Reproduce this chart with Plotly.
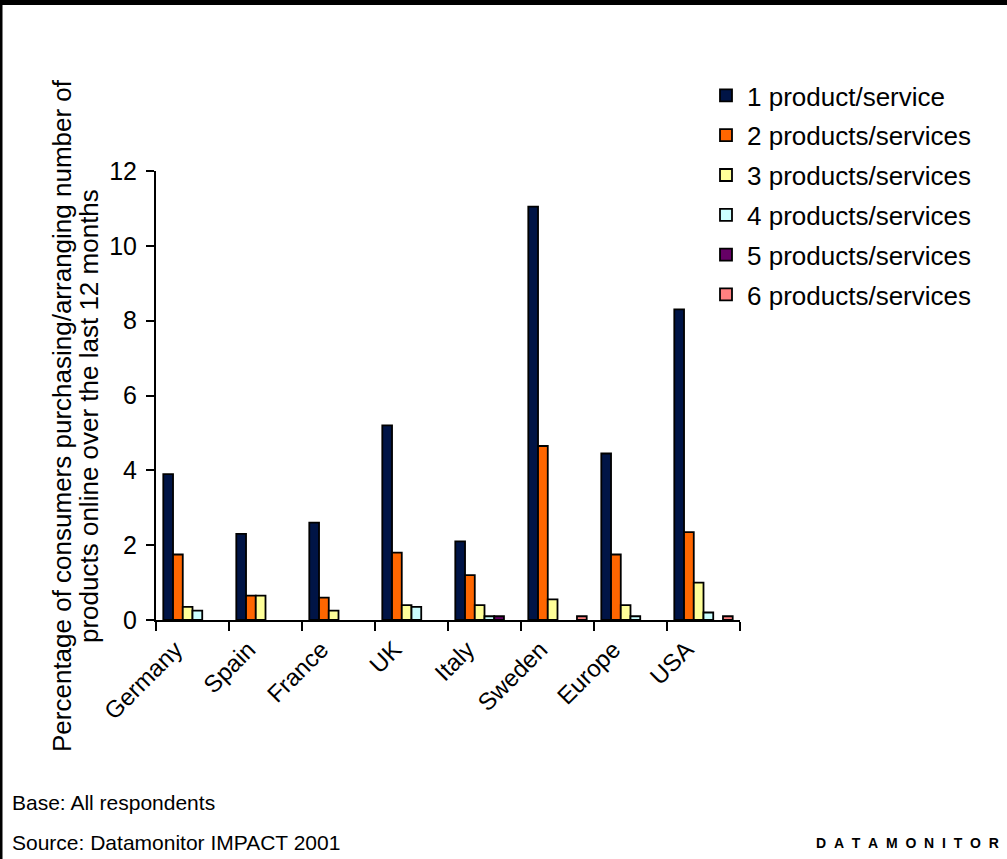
import plotly.graph_objects as go

categories = ["Germany", "Spain", "France", "UK", "Italy", "Sweden", "Europe", "USA"]
series_names = ["1 product/service", "2 products/services", "3 products/services",
                "4 products/services", "5 products/services", "6 products/services"]
s1 = [3.9, 2.3, 2.6, 5.2, 2.1, 11.05, 4.45, 8.3]
s2 = [1.75, 0.65, 0.6, 1.8, 1.2, 4.65, 1.75, 2.35]
s3 = [0.35, 0.65, 0.25, 0.4, 0.4, 0.55, 0.4, 1.0]
s4 = [0.25, None, None, 0.35, 0.1, None, 0.1, 0.2]
s5 = [None, None, None, None, 0.1, None, None, None]
s6 = [None, None, None, None, None, 0.1, None, 0.1]
colors = ["#001446", "#FF6600", "#FFFF99", "#CCFFFF", "#660066", "#FF8080"]
y_ticks = [0, 2, 4, 6, 8, 10, 12]

W, H = 1007, 859
L, R, T, B = 156, 740, 171, 620


def px(x):
    return (x - L) / (R - L)


def py(y):
    return (B - y) / (B - T)


FONT = "Liberation Sans, Arial, sans-serif"

fig = go.Figure()
for i, (name, vals) in enumerate(zip(series_names, [s1, s2, s3, s4, s5, s6])):
    fig.add_trace(go.Bar(
        x=categories, y=vals, name=name, legendgroup=f"g{i}",
        marker=dict(color=colors[i], line=dict(color="black", width=1.8)),
    ))

fig.update_layout(
    width=W, height=H,
    margin=dict(l=L, r=W - R, t=T, b=H - B, pad=0),
    paper_bgcolor="white", plot_bgcolor="white",
    barmode="group", bargap=0.2, bargroupgap=0,
    font=dict(family=FONT, size=24, color="black"),
    showlegend=True,
    legend=dict(x=px(705), y=py(72), xanchor="left", yanchor="top",
                font=dict(size=26, family=FONT), bgcolor="rgba(0,0,0,0)",
                tracegroupgap=3, traceorder="grouped", itemwidth=32),
    xaxis=dict(showline=True, linecolor="black", linewidth=2, ticks="outside",
               tickson="boundaries", ticklen=9, tickwidth=1.5, tickcolor="black",
               tickangle=-45, showgrid=False, tickfont=dict(size=24),
               ticklabelshift=-17, ticklabelstandoff=4),
    yaxis=dict(range=[0, 12], tickvals=y_ticks, showline=True, linecolor="black",
               linewidth=2, ticks="outside", ticklen=8, tickwidth=1.5,
               tickcolor="black", showgrid=False, zeroline=False,
               tickfont=dict(size=25), ticklabelstandoff=4),
)

SP = "&nbsp;&nbsp;"
ann = [
    dict(text="Percentage of consumers purchasing/arranging number of", x=px(62), y=py(416),
         textangle=-90, font=dict(size=26)),
    dict(text="products online over the last 12 months", x=px(89), y=py(416),
         textangle=-90, font=dict(size=26)),
    dict(text="Base: All respondents", x=px(10), y=py(802), xanchor="left",
         font=dict(size=21)),
    dict(text="Source: Datamonitor IMPACT 2001", x=px(10), y=py(842), xanchor="left",
         font=dict(size=21)),
    dict(text="<b>" + SP.join("DATAMONITOR") + "</b>", x=px(1001), y=py(843), xanchor="right",
         font=dict(size=14)),
]
for a in ann:
    a.update(xref="paper", yref="paper", showarrow=False)
    a.setdefault("xanchor", "center")
    a.setdefault("yanchor", "middle")
    fig.add_annotation(**a)

fig.add_shape(type="rect", xref="paper", yref="paper", x0=px(0), x1=px(W), y0=py(0), y1=py(5),
              fillcolor="black", line_width=0, layer="above")
fig.add_shape(type="rect", xref="paper", yref="paper", x0=px(0), x1=px(2.5), y0=py(0), y1=py(H),
              fillcolor="black", line_width=0, layer="above")

fig.write_html("out.html")
